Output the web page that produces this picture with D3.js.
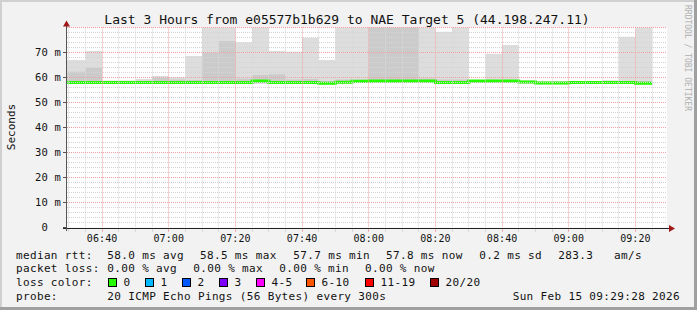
<!DOCTYPE html>
<html>
<head>
<meta charset="utf-8">
<script src="https://cdn.jsdelivr.net/npm/d3@7"></script>
<style>
  body { margin: 0; background: #f2f2f2; }
  svg text { font-family: "DejaVu Sans Mono", monospace; }
</style>
</head>
<body>
<svg id="chart"></svg>
<script>
// 5-minute bins, labelled by the end of each bin (rrd timestamp)
const binEnd = ["06:30","06:35","06:40","06:45","06:50","06:55","07:00","07:05","07:10","07:15","07:20","07:25",
  "07:30","07:35","07:40","07:45","07:50","07:55","08:00","08:05","08:10","08:15","08:20","08:25",
  "08:30","08:35","08:40","08:45","08:50","08:55","09:00","09:05","09:10","09:15","09:20","09:25"];
// median rtt in ms (green line)
const medianRtt = [58.0,58.0,58.0,58.0,58.0,58.0,58.0,58.0,58.0,58.0,58.0,58.0,58.6,58.0,58.0,58.0,57.7,58.1,
  58.5,58.6,58.6,58.6,58.6,58.0,58.0,58.6,58.6,58.6,58.2,57.8,57.8,58.0,58.0,58.0,58.0,57.7];
// smoke: min, inner band top, max (values over 80 are off the chart)
const minRtt = [57.4,57.4,57.4,57.5,57.5,57.5,57.5,57.5,57.5,57.5,57.5,57.5,57.6,57.4,57.4,57.4,57.2,57.5,
  57.8,57.9,57.9,57.9,57.9,57.4,57.4,57.9,57.9,57.9,57.6,57.3,57.3,57.4,57.4,57.4,57.4,57.2];
const innerRtt = [62.3,62.3,63.9,58.5,58.5,58.7,59.8,59.2,59.0,69.9,74.6,59.5,61.0,61.3,59.2,59.4,58.6,59.2,
  59.1,88,88,88,59.6,59.2,59.2,58.9,58.9,58.9,58.6,58.3,58.3,58.4,58.4,58.6,58.6,58.6];
const maxRtt = [67.0,67.0,70.6,58.8,58.8,59.4,60.6,60.1,68.6,88,88,74.1,88,70.6,70.3,75.9,67.0,88,
  88,88,88,88,88,78.3,88,59.0,69.5,73.0,58.9,58.5,58.5,58.6,58.5,58.9,76.3,88];

const xTickLabels = ["06:40","07:00","07:20","07:40","08:00","08:20","08:40","09:00","09:20"];
const yTickValues = [0, 10, 20, 30, 40, 50, 60, 70];

const lossLabels = ["0","1","2","3","4-5","6-10","11-19","20/20"];
const lossColors = ["#26ff00","#00b8ff","#0059ff","#7e00ff","#ff00ff","#ff5500","#ff0000","#a10000"];

const W = 697, H = 310;
const day = t => { const [h, m] = t.split(":").map(Number); return new Date(2026, 1, 15, h, m, 0); };
const tStart = new Date(2026, 1, 15, 6, 29, 28);
const tEnd = new Date(2026, 1, 15, 9, 29, 28);

const x = d3.scaleTime().domain([tStart, tEnd]).range([67, 667]);
const y = d3.scaleLinear().domain([0, 80]).range([227.5, 27.5]);
const crisp = v => Math.floor(v) + 0.5;

const svg = d3.select("#chart").attr("width", W).attr("height", H);

// frame
svg.append("rect").attr("width", W).attr("height", H).attr("fill", "#f2f2f2");
svg.append("rect").attr("x", 0).attr("y", 0).attr("width", W).attr("height", 2).attr("fill", "#d0d0d0");
svg.append("rect").attr("x", 0).attr("y", 0).attr("width", 2).attr("height", H).attr("fill", "#d0d0d0");
svg.append("rect").attr("x", 0).attr("y", H - 3).attr("width", W).attr("height", 3).attr("fill", "#a0a0a0");
svg.append("rect").attr("x", W - 3).attr("y", 0).attr("width", 3).attr("height", H).attr("fill", "#a0a0a0");

// plot background
svg.append("rect")
  .attr("x", x.range()[0]).attr("y", y(80))
  .attr("width", x.range()[1] - x.range()[0]).attr("height", y(0) - y(80))
  .attr("fill", "#ffffff");

svg.append("clipPath").attr("id", "plotclip")
  .append("rect")
  .attr("x", x.range()[0]).attr("y", y(80))
  .attr("width", x.range()[1] - x.range()[0]).attr("height", y(0) - y(80));

const bins = binEnd.map((t, i) => {
  const end = day(t);
  return { start: new Date(end - 300000), end, med: medianRtt[i], min: minRtt[i], inner: innerRtt[i], max: maxRtt[i] };
});

const plot = svg.append("g").attr("clip-path", "url(#plotclip)");

// smoke
plot.selectAll(".smoke-outer").data(bins).enter().append("rect")
  .attr("x", d => x(d.start)).attr("width", d => x(d.end) - x(d.start))
  .attr("y", d => y(d.max)).attr("height", d => y(d.min) - y(d.max))
  .attr("fill", "#dddddd");
plot.selectAll(".smoke-inner").data(bins).enter().append("rect")
  .attr("x", d => x(d.start)).attr("width", d => x(d.end) - x(d.start))
  .attr("y", d => y(d.inner)).attr("height", d => y(d.min) - y(d.inner))
  .attr("fill", "#cbcbcb");

// grid
const grid = svg.append("g");
d3.range(0, 81, 2).filter(v => v % 10 !== 0).forEach(v => {
  grid.append("line").attr("x1", x.range()[0]).attr("x2", x.range()[1])
    .attr("y1", crisp(y(v))).attr("y2", crisp(y(v)))
    .attr("stroke", "#d4d4d4").attr("stroke-dasharray", "1,1");
});
d3.timeMinute.every(5).range(tStart, tEnd).forEach(t => {
  if (t.getMinutes() % 20 === 0) return;
  grid.append("line").attr("x1", crisp(x(t))).attr("x2", crisp(x(t)))
    .attr("y1", y(80)).attr("y2", y(0))
    .attr("stroke", "#d4d4d4").attr("stroke-dasharray", "1,1");
});
yTickValues.concat([80]).forEach(v => {
  if (v === 0) return;
  grid.append("line").attr("x1", x.range()[0]).attr("x2", x.range()[1])
    .attr("y1", crisp(y(v))).attr("y2", crisp(y(v)))
    .attr("stroke", "#f0a0a0").attr("stroke-dasharray", "1,1");
});
xTickLabels.forEach(t => {
  grid.append("line").attr("x1", crisp(x(day(t)))).attr("x2", crisp(x(day(t))))
    .attr("y1", y(80)).attr("y2", y(0))
    .attr("stroke", "#f0a0a0").attr("stroke-dasharray", "1,1");
});

// median line
const medPts = bins.map(d => [d.start, d.med]).concat([[bins[bins.length - 1].end, bins[bins.length - 1].med]]);
plot.append("path")
  .datum(medPts)
  .attr("d", d3.line().x(d => x(d[0])).y(d => y(d[1])).curve(d3.curveStepAfter))
  .attr("fill", "none")
  .attr("stroke", lossColors[0])
  .attr("stroke-width", 3);

// axes
const axisY0 = crisp(y(0)) + 1;
const axisX0 = 66.5;
svg.append("line").attr("x1", 63).attr("x2", 670).attr("y1", axisY0).attr("y2", axisY0).attr("stroke", "#222");
svg.append("line").attr("x1", axisX0).attr("x2", axisX0).attr("y1", 231).attr("y2", 24).attr("stroke", "#555");
svg.append("path").attr("d", `M${axisX0 - 3.5},26.5 L${axisX0},20.5 L${axisX0 + 3.5},26.5 Z`).attr("fill", "#a11818");
svg.append("path").attr("d", `M669,${axisY0 - 3.5} L675,${axisY0} L669,${axisY0 + 3.5} Z`).attr("fill", "#a11818");

// ticks
d3.timeMinute.every(5).range(tStart, tEnd).forEach(t => {
  const major = t.getMinutes() % 20 === 0;
  svg.append("line").attr("x1", crisp(x(t))).attr("x2", crisp(x(t)))
    .attr("y1", axisY0 + 1).attr("y2", axisY0 + 3)
    .attr("stroke", major ? "#f09090" : "#cccccc");
});
yTickValues.forEach(v => {
  svg.append("line").attr("x1", 63).attr("x2", 66)
    .attr("y1", crisp(y(v))).attr("y2", crisp(y(v))).attr("stroke", "#555");
});

svg.selectAll(".xlab").data(xTickLabels).enter().append("text")
  .attr("x", d => x(day(d))).attr("y", 241.5)
  .attr("text-anchor", "middle")
  .style("font-size", "10px").style("letter-spacing", "0.1px").attr("fill", "#111")
  .text(d => d);

svg.selectAll(".ylab").data(yTickValues).enter().append("text")
  .attr("x", 61).attr("y", d => y(d)).attr("dy", "0.35em")
  .attr("text-anchor", "end")
  .style("font-size", "10.5px").style("letter-spacing", "0.2px").style("white-space", "pre").attr("fill", "#111")
  .text(d => d === 0 ? "0  " : d + " m");

// title and side texts
svg.append("text").attr("x", 347).attr("y", 24).attr("text-anchor", "middle")
  .style("font-size", "13px").attr("fill", "#111")
  .text("Last 3 Hours from e05577b1b629 to NAE Target 5 (44.198.247.11)");

svg.append("text").attr("transform", "translate(14.5,127) rotate(-90)").attr("text-anchor", "middle")
  .style("font-size", "11px").attr("fill", "#111").text("Seconds");

svg.append("text").attr("transform", "translate(684.5,5) rotate(90)")
  .style("font-size", "8px").attr("fill", "#b0b0b0").text("RRDTOOL / TOBI OETIKER");

// legend
const legend = svg.append("g").style("font-size", "11px").style("letter-spacing", "0.35px").attr("fill", "#111");
const rows = [
  { y: 258.5, items: [[16, "median rtt:"], [107.3, "58.0 ms avg"], [200, "58.5 ms max"], [293.3, "57.7 ms min"],
    [386, "57.8 ms now"], [479.3, "0.2 ms sd"], [558.3, "283.3"], [614, "am/s"]] },
  { y: 272, items: [[16, "packet loss:"], [107.3, "0.00 % avg"], [193.3, "0.00 % max"], [279.3, "0.00 % min"], [365, "0.00 % now"]] },
  { y: 285.5, items: [[16, "loss color:"]] },
  { y: 299.5, items: [[16, "probe:"], [107.3, "20 ICMP Echo Pings (56 Bytes) every 300s"]] }
];
rows.forEach(r => r.items.forEach(([lx, s]) => {
  legend.append("text").attr("x", lx).attr("y", r.y).text(s);
}));
legend.append("text").attr("x", 680).attr("y", 299.5).attr("text-anchor", "end").text("Sun Feb 15 09:29:28 2026");

const boxX = [108.5, 145.5, 182.5, 219.5, 256.5, 306.5, 365.5, 430.5];
lossLabels.forEach((lab, i) => {
  legend.append("rect").attr("x", boxX[i]).attr("y", 278.5).attr("width", 8).attr("height", 8)
    .attr("fill", lossColors[i]).attr("stroke", "#000").attr("stroke-width", 1);
  legend.append("text").attr("x", boxX[i] + 15).attr("y", 285.5).text(lab);
});
</script>
</body>
</html>
